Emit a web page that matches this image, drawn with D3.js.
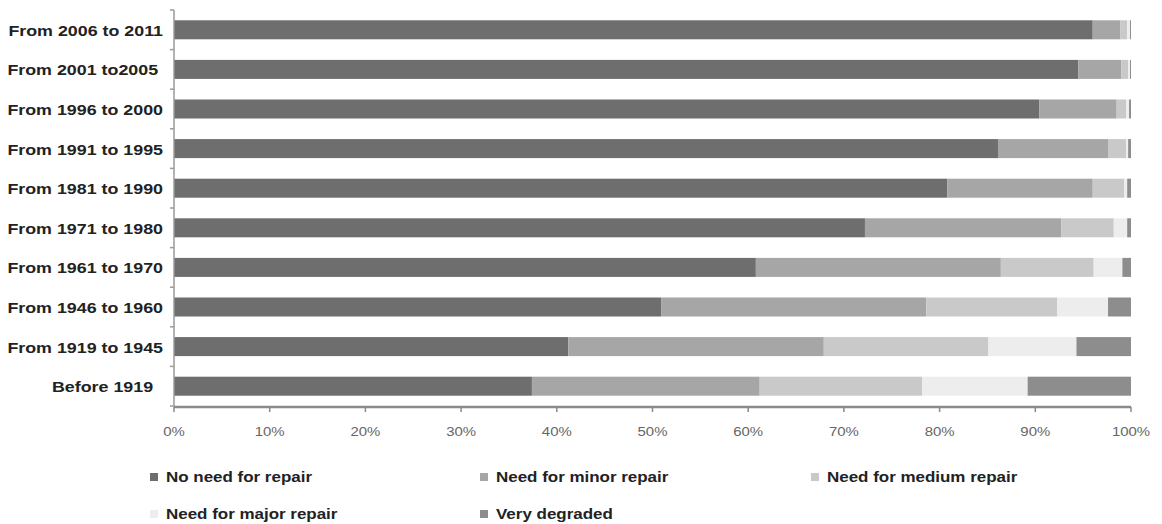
<script src="https://cdn.jsdelivr.net/npm/d3@7"></script>

<svg id="vis"></svg>

<script>

  /***** DATA *****/

  var categories = ['From 2006 to 2011', 'From 2001 to2005\u00a0', 'From 1996 to 2000', 'From 1991 to 1995',
    'From 1981 to 1990', 'From 1971 to 1980', 'From 1961 to 1970', 'From 1946 to 1960',
    'From 1919 to 1945', 'Before 1919\u00a0\u00a0']

  var seriesNames = ['No need for repair', 'Need for minor repair', 'Need for medium repair',
    'Need for major repair', 'Very degraded']

  var noRepair     = [96.0, 94.5, 90.4, 86.1, 80.8, 72.2, 60.8, 50.9, 41.2, 37.4]
  var minorRepair  = [2.9, 4.5, 8.1, 11.5, 15.2, 20.5, 25.6, 27.7, 26.7, 23.8]
  var mediumRepair = [0.7, 0.7, 1.0, 1.9, 3.3, 5.5, 9.7, 13.7, 17.2, 17.0]
  var majorRepair  = [0.3, 0.2, 0.3, 0.2, 0.3, 1.4, 3.0, 5.3, 9.2, 11.0]
  var veryDegraded = [0.1, 0.1, 0.2, 0.3, 0.4, 0.4, 0.9, 2.4, 5.7, 10.8]

  var xTicks = [0, 10, 20, 30, 40, 50, 60, 70, 80, 90, 100]

  var colors = ['#6e6e6e', '#a6a6a6', '#c9c9c9', '#ededed', '#8d8d8d']

  // rows for d3.stack
  var rows = categories.map(function (c, i) {
    return { cat: c, s0: noRepair[i], s1: minorRepair[i], s2: mediumRepair[i], s3: majorRepair[i], s4: veryDegraded[i] }
  })
  var keys = ['s0', 's1', 's2', 's3', 's4']


  /***** SETUP *****/

  var width = 1162
  var height = 524
  var stretch = 1.15   // text in the picture is a bit wide

  var svg = d3.select('#vis')
    .attr('width', width)
    .attr('height', height)
    .style('background-color', 'white')
    .style('font-family', 'Liberation Sans, Arial, sans-serif')

  var x = d3.scaleLinear()
    .domain([0, 100])
    .range([174, 1131])

  var y = d3.scaleBand()
    .domain(categories)
    .range([10, 406])
    .paddingInner(0.52)
    .paddingOuter(0.26)

  var stacked = d3.stack().keys(keys)(rows)


  /***** BARS *****/

  svg.append('g')
    .selectAll('g')
    .data(stacked)
    .enter()
    .append('g')
    .attr('fill', function (d, i) { return colors[i] })
    .selectAll('rect')
    .data(function (d) { return d })
    .enter()
    .append('rect')
    .attr('x', function (d) { return x(d[0]) })
    .attr('y', function (d) { return y(d.data.cat) })
    .attr('width', function (d) { return Math.max(0, x(d[1]) - x(d[0])) })
    .attr('height', y.bandwidth())


  /***** AXES *****/

  // y axis line with ticks between categories
  var yAxisG = svg.append('g')
  yAxisG.append('line')
    .attr('x1', x(0)).attr('x2', x(0))
    .attr('y1', y.range()[0]).attr('y2', y.range()[1])
    .style('stroke', '#9a9a9a')
    .style('stroke-width', 1.5)

  var boundaries = d3.range(categories.length + 1).map(function (i) {
    return y.range()[0] + i * y.step()
  })
  yAxisG.selectAll('.ytick')
    .data(boundaries)
    .enter()
    .append('line')
    .attr('class', 'ytick')
    .attr('x1', x(0) - 4).attr('x2', x(0))
    .attr('y1', function (d) { return d }).attr('y2', function (d) { return d })
    .style('stroke', '#9a9a9a')
    .style('stroke-width', 1.5)

  // category labels
  yAxisG.selectAll('.ylabel')
    .data(categories)
    .enter()
    .append('g')
    .attr('transform', function (d) {
      return 'translate(163,' + (y(d) + y.bandwidth() / 2 + 6) + ') scale(1.19,1)'
    })
    .append('text')
    .attr('text-anchor', 'end')
    .style('font-size', '15px')
    .style('font-weight', 700)
    .style('fill', '#222')
    .text(function (d) { return d })

  // x axis
  var xAxisG = svg.append('g')
  xAxisG.append('line')
    .attr('x1', x(0)).attr('x2', x(100))
    .attr('y1', 407).attr('y2', 407)
    .style('stroke', '#8a8a8a')
    .style('stroke-width', 2.5)

  xAxisG.selectAll('.xtick')
    .data(xTicks)
    .enter()
    .append('line')
    .attr('x1', function (d) { return x(d) }).attr('x2', function (d) { return x(d) })
    .attr('y1', 407).attr('y2', 412)
    .style('stroke', '#8a8a8a')
    .style('stroke-width', 1.5)

  xAxisG.selectAll('.xlabel')
    .data(xTicks)
    .enter()
    .append('g')
    .attr('transform', function (d) { return 'translate(' + x(d) + ',436) scale(' + stretch + ',1)' })
    .append('text')
    .attr('text-anchor', 'middle')
    .style('font-size', '13px')
    .style('fill', '#666')
    .text(function (d) { return d + '%' })


  /***** LEGEND *****/

  var legendPos = [[150, 482], [480, 482], [811, 482], [150, 519], [480, 519]]

  var legend = svg.append('g')
    .selectAll('g')
    .data(seriesNames)
    .enter()
    .append('g')
    .attr('transform', function (d, i) { return 'translate(' + legendPos[i][0] + ',' + legendPos[i][1] + ')' })

  legend.append('rect')
    .attr('x', 0)
    .attr('y', -9)
    .attr('width', 8)
    .attr('height', 8)
    .attr('fill', function (d, i) { return colors[i] })

  legend.append('g')
    .attr('transform', 'translate(16,0) scale(1.17,1)')
    .append('text')
    .style('font-size', '14.5px')
    .style('font-weight', 700)
    .style('fill', '#222')
    .text(function (d) { return d })

</script>

<body style="margin: 0;"></body>
